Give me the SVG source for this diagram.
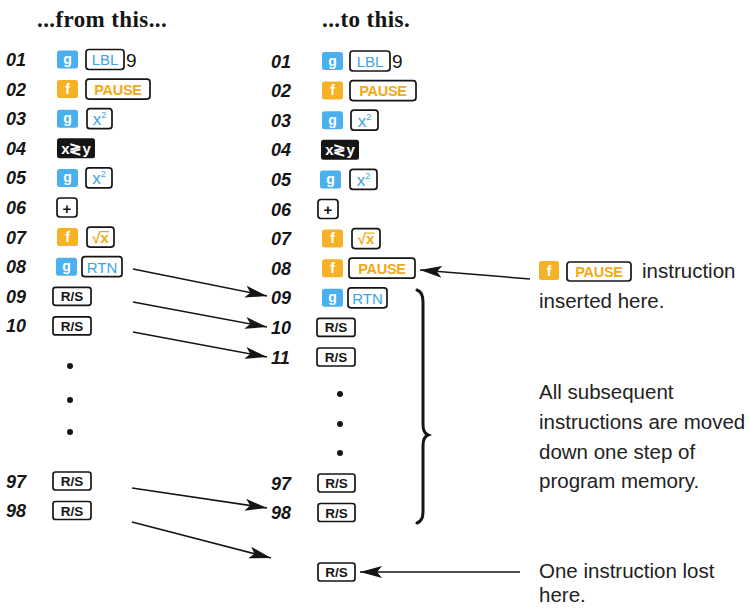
<svg xmlns="http://www.w3.org/2000/svg" width="750" height="608" viewBox="0 0 750 608">
<style>
.num{font-family:"Liberation Sans",Arial,sans-serif;font-style:italic;font-weight:bold;font-size:18px;fill:#151515}
.kg{fill:#4bb0ee}
.kf{fill:#f6b226}
.kl{fill:#fff;font-family:"Liberation Sans",Arial,sans-serif;font-weight:bold;font-size:14px;text-anchor:middle}
.box{fill:#fff;stroke:#151515;stroke-width:1.7}
.blk{fill:#151515}
.bt{font-family:"Liberation Sans",Arial,sans-serif;font-size:15px;text-anchor:middle}
.bb{font-weight:bold}
.rs{font-family:"Liberation Sans",Arial,sans-serif;font-size:13.5px;font-weight:bold;text-anchor:middle;fill:#151515}
.pz{font-family:"Liberation Sans",Arial,sans-serif;font-size:14.5px;font-weight:bold;text-anchor:middle;fill:#f0aa18;letter-spacing:-0.3px}
.blue{fill:#3aa3e3}
.orange{fill:#f0aa18}
.dark{fill:#151515}
.white{fill:#fff}
.nine{font-family:"Liberation Sans",Arial,sans-serif;font-size:19px;fill:#151515}
.desc{font-family:"Liberation Sans",Arial,sans-serif;font-size:20.5px;fill:#222}
.head{font-family:"Liberation Serif","Times New Roman",serif;font-weight:bold;font-size:23px;letter-spacing:0.4px;fill:#151515}
.dot{fill:#151515}
.conn line{stroke:#151515;stroke-width:1.5;marker-end:url(#ah)}
.brace{fill:none;stroke:#151515;stroke-width:3;stroke-linecap:round}
</style>
<defs>
<marker id="ah" markerUnits="userSpaceOnUse" markerWidth="24" markerHeight="14" refX="22" refY="7" orient="auto">
<path d="M0,1 L22,7 L0,13 L5,7 Z" fill="#151515"/>
</marker>
</defs>

<g id="headings">
<text class="head" x="37" y="27">...from this...</text>
<text class="head" x="322" y="27">...to this.</text>
</g>

<!-- LEFT COLUMN -->
<g id="L01" transform="translate(0,59.5)">
<text class="num" x="6" y="6.5">01</text>
<rect class="kg" x="57" y="-9" width="21" height="18" rx="2.5"/><text class="kl" x="67.5" y="4.5">g</text>
<rect class="box" x="86" y="-10" width="38" height="20" rx="3"/><text class="bt blue" x="105" y="5.5">LBL</text>
<text class="nine" x="126" y="7">9</text>
</g>
<g id="L02" transform="translate(0,89.1)">
<text class="num" x="6" y="6.5">02</text>
<rect class="kf" x="57" y="-9" width="21" height="18" rx="2.5"/><text class="kl" x="67.5" y="4.5">f</text>
<rect class="box" x="86" y="-10" width="64" height="20" rx="3"/><text class="pz" x="118" y="5.5">PAUSE</text>
</g>
<g id="L03" transform="translate(0,118.7)">
<text class="num" x="6" y="6.5">03</text>
<rect class="kg" x="57" y="-9" width="21" height="18" rx="2.5"/><text class="kl" x="67.5" y="4.5">g</text>
<rect class="box" x="87" y="-10" width="25" height="20" rx="3"/><text class="bt blue" x="99.5" y="6.5"><tspan font-size="17">x</tspan><tspan font-size="9" dy="-7">2</tspan></text>
</g>
<g id="L04" transform="translate(0,148.3)">
<text class="num" x="6" y="6.5">04</text>
<rect class="blk" x="57" y="-10" width="38" height="20" rx="2.5"/><text class="bt bb white" x="76" y="5.5" font-size="15">x≷y</text>
</g>
<g id="L05" transform="translate(0,177.9)">
<text class="num" x="6" y="6.5">05</text>
<rect class="kg" x="57" y="-9" width="21" height="18" rx="2.5"/><text class="kl" x="67.5" y="4.5">g</text>
<rect class="box" x="86" y="-10" width="26" height="20" rx="3"/><text class="bt blue" x="99" y="6.5"><tspan font-size="17">x</tspan><tspan font-size="9" dy="-7">2</tspan></text>
</g>
<g id="L06" transform="translate(0,207.5)">
<text class="num" x="6" y="6.5">06</text>
<rect class="box" x="57" y="-9.5" width="20" height="19" rx="3"/><text class="bt bb dark" x="67" y="6" font-size="18">+</text>
</g>
<g id="L07" transform="translate(0,237.1)">
<text class="num" x="6" y="6.5">07</text>
<rect class="kf" x="57" y="-9" width="21" height="18" rx="2.5"/><text class="kl" x="67.5" y="4.5">f</text>
<rect class="box" x="87" y="-10" width="27" height="20" rx="3"/><text class="bt orange bb" x="100.5" y="5.5" font-size="13">√x</text>
<line x1="100" y1="-5.5" x2="109" y2="-5.5" stroke="#f0aa18" stroke-width="1.2"/>
</g>
<g id="L08" transform="translate(0,266.7)">
<text class="num" x="6" y="6.5">08</text>
<rect class="kg" x="56" y="-9" width="21" height="18" rx="2.5"/><text class="kl" x="66.5" y="4.5">g</text>
<rect class="box" x="82" y="-10" width="40" height="20" rx="3"/><text class="bt blue" x="102" y="6">RTN</text>
</g>
<g id="L09" transform="translate(0,296.3)">
<text class="num" x="6" y="6.5">09</text>
<rect class="box" x="53" y="-9" width="38" height="18" rx="2.5"/><text class="rs" x="72" y="5">R/S</text>
</g>
<g id="L10" transform="translate(0,325.9)">
<text class="num" x="6" y="6.5">10</text>
<rect class="box" x="53" y="-9" width="38" height="18" rx="2.5"/><text class="rs" x="72" y="5">R/S</text>
</g>
<g id="Ldots">
<circle class="dot" cx="70" cy="366" r="3"/>
<circle class="dot" cx="70" cy="400" r="3"/>
<circle class="dot" cx="70" cy="432" r="3"/>
</g>
<g id="L97" transform="translate(0,481)">
<text class="num" x="6" y="6.5">97</text>
<rect class="box" x="53" y="-9" width="38" height="18" rx="2.5"/><text class="rs" x="72" y="5">R/S</text>
</g>
<g id="L98" transform="translate(0,510.5)">
<text class="num" x="6" y="6.5">98</text>
<rect class="box" x="53" y="-9" width="38" height="18" rx="2.5"/><text class="rs" x="72" y="5">R/S</text>
</g>

<!-- RIGHT COLUMN -->
<g id="R01" transform="translate(0,61)">
<text class="num" x="271" y="6.5">01</text>
<rect class="kg" x="322" y="-9" width="21" height="18" rx="2.5"/><text class="kl" x="332.5" y="4.5">g</text>
<rect class="box" x="350" y="-10" width="40" height="20" rx="3"/><text class="bt blue" x="370" y="5.5">LBL</text>
<text class="nine" x="392" y="7">9</text>
</g>
<g id="R02" transform="translate(0,90.6)">
<text class="num" x="271" y="6.5">02</text>
<rect class="kf" x="322" y="-9" width="21" height="18" rx="2.5"/><text class="kl" x="332.5" y="4.5">f</text>
<rect class="box" x="350" y="-10" width="66" height="20" rx="3"/><text class="pz" x="383" y="5.5">PAUSE</text>
</g>
<g id="R03" transform="translate(0,120.2)">
<text class="num" x="271" y="6.5">03</text>
<rect class="kg" x="322" y="-9" width="21" height="18" rx="2.5"/><text class="kl" x="332.5" y="4.5">g</text>
<rect class="box" x="351" y="-10" width="27" height="20" rx="3"/><text class="bt blue" x="364.5" y="6.5"><tspan font-size="17">x</tspan><tspan font-size="9" dy="-7">2</tspan></text>
</g>
<g id="R04" transform="translate(0,149.8)">
<text class="num" x="271" y="6.5">04</text>
<rect class="blk" x="321" y="-10" width="38" height="20" rx="2.5"/><text class="bt bb white" x="340" y="5.5" font-size="15">x≷y</text>
</g>
<g id="R05" transform="translate(0,179.4)">
<text class="num" x="271" y="6.5">05</text>
<rect class="kg" x="320" y="-9" width="21" height="18" rx="2.5"/><text class="kl" x="330.5" y="4.5">g</text>
<rect class="box" x="350" y="-10" width="27" height="20" rx="3"/><text class="bt blue" x="363.5" y="6.5"><tspan font-size="17">x</tspan><tspan font-size="9" dy="-7">2</tspan></text>
</g>
<g id="R06" transform="translate(0,209)">
<text class="num" x="271" y="6.5">06</text>
<rect class="box" x="318" y="-9.5" width="20" height="19" rx="3"/><text class="bt bb dark" x="328" y="6" font-size="18">+</text>
</g>
<g id="R07" transform="translate(0,238.6)">
<text class="num" x="271" y="6.5">07</text>
<rect class="kf" x="322" y="-9" width="21" height="18" rx="2.5"/><text class="kl" x="332.5" y="4.5">f</text>
<rect class="box" x="352" y="-10" width="28" height="20" rx="3"/><text class="bt orange bb" x="366" y="5.5" font-size="13">√x</text>
<line x1="365.5" y1="-5.5" x2="374.5" y2="-5.5" stroke="#f0aa18" stroke-width="1.2"/>
</g>
<g id="R08" transform="translate(0,268.2)">
<text class="num" x="271" y="6.5">08</text>
<rect class="kf" x="322" y="-9" width="21" height="18" rx="2.5"/><text class="kl" x="332.5" y="4.5">f</text>
<rect class="box" x="349" y="-10" width="66" height="20" rx="3"/><text class="pz" x="382" y="5.5">PAUSE</text>
</g>
<g id="R09" transform="translate(0,297.8)">
<text class="num" x="271" y="6.5">09</text>
<rect class="kg" x="322" y="-9" width="21" height="18" rx="2.5"/><text class="kl" x="332.5" y="4.5">g</text>
<rect class="box" x="348" y="-10" width="39" height="20" rx="3"/><text class="bt blue" x="367.5" y="6">RTN</text>
</g>
<g id="R10" transform="translate(0,327.4)">
<text class="num" x="271" y="6.5">10</text>
<rect class="box" x="317" y="-9" width="38" height="18" rx="2.5"/><text class="rs" x="336" y="5">R/S</text>
</g>
<g id="R11" transform="translate(0,357)">
<text class="num" x="271" y="6.5">11</text>
<rect class="box" x="317" y="-9" width="38" height="18" rx="2.5"/><text class="rs" x="336" y="5">R/S</text>
</g>
<g id="Rdots">
<circle class="dot" cx="340" cy="394" r="3"/>
<circle class="dot" cx="340" cy="424" r="3"/>
<circle class="dot" cx="340" cy="453" r="3"/>
</g>
<g id="R97" transform="translate(0,483)">
<text class="num" x="271" y="6.5">97</text>
<rect class="box" x="318" y="-9" width="37" height="18" rx="2.5"/><text class="rs" x="336.5" y="5">R/S</text>
</g>
<g id="R98" transform="translate(0,512.5)">
<text class="num" x="271" y="6.5">98</text>
<rect class="box" x="318" y="-9" width="37" height="18" rx="2.5"/><text class="rs" x="336.5" y="5">R/S</text>
</g>
<g id="Rlost" transform="translate(0,572)">
<rect class="box" x="318" y="-9" width="37" height="18" rx="2.5"/><text class="rs" x="336.5" y="5">R/S</text>
</g>

<g id="brace">
<path class="brace" d="M417,290 Q423,292 423,302 L423,424 Q423,433 428,435 Q423,437 423,446 L423,512 Q423,521 417,523"/>
</g>

<!-- annotations -->
<g id="note-pause">
<rect class="kf" x="539" y="261" width="20" height="19" rx="2.5"/><text class="kl" x="549" y="275.5">f</text>
<rect class="box" x="567" y="262" width="64" height="19" rx="3"/><text class="pz" x="599" y="277">PAUSE</text>
<text class="desc" x="642" y="278">instruction</text>
<text class="desc" x="539" y="308">inserted here.</text>
</g>
<g id="note-moved">
<text class="desc" x="539" y="399">All subsequent</text>
<text class="desc" x="539" y="429">instructions are moved</text>
<text class="desc" x="539" y="459">down one step of</text>
<text class="desc" x="539" y="488">program memory.</text>
</g>
<g id="note-lost">
<text class="desc" x="539" y="578">One instruction lost</text>
<text class="desc" x="539" y="602">here.</text>
</g>

<g id="connectors" class="conn">
<line x1="133" y1="269" x2="267" y2="296"/>
<line x1="133" y1="302" x2="267" y2="327"/>
<line x1="133" y1="332" x2="267" y2="357"/>
<line x1="132" y1="488" x2="267" y2="508"/>
<line x1="132" y1="522" x2="271" y2="558"/>
<line x1="530" y1="279" x2="420" y2="270"/>
<line x1="520" y1="572" x2="360" y2="572"/>
</g>
</svg>
